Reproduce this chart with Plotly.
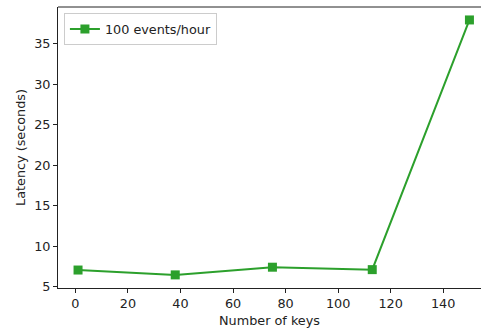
import plotly.graph_objects as go

num_keys = [1, 38, 75, 113, 150]
latency = [7.05, 6.45, 7.4, 7.1, 37.95]
series_name = "100 events/hour"
x_ticks = [0, 20, 40, 60, 80, 100, 120, 140]
y_ticks = [5, 10, 15, 20, 25, 30, 35]

fig = go.Figure()
fig.add_trace(go.Scatter(
    x=num_keys, y=latency, mode="lines+markers", name=series_name,
    line=dict(color="#2ca02c", width=2),
    marker=dict(symbol="square", size=9, color="#2ca02c"),
))

font = dict(family="DejaVu Sans", size=12.8, color="#222")
fig.update_layout(
    width=481, height=329,
    margin=dict(l=58, r=0, t=7, b=41),
    paper_bgcolor="white", plot_bgcolor="white",
    font=font,
    showlegend=True,
    legend=dict(x=0.014, y=0.978, xanchor="left", yanchor="top",
                bordercolor="#cccccc", borderwidth=1, bgcolor="rgba(255,255,255,0.8)",
                font=font),
    xaxis=dict(range=[-6.63, 154.4], tickvals=x_ticks, ticks="outside", ticklen=4,
               tickcolor="#222", showline=True, linecolor="#222", linewidth=1,
               showgrid=False, zeroline=False, tickfont=font,
               title=dict(text="Number of keys", standoff=5, font=font)),
    yaxis=dict(range=[4.83, 39.55], tickvals=y_ticks, ticks="outside", ticklen=4,
               tickcolor="#222", showline=True, linecolor="#222", linewidth=1,
               showgrid=False, zeroline=False, tickfont=font,
               title=dict(text="Latency (seconds)", standoff=5, font=font)),
)
# top spine
fig.add_shape(type="line", xref="paper", yref="paper", x0=0, x1=1, y0=1, y1=1,
              line=dict(color="#222", width=1))
fig.write_html("out.html")
